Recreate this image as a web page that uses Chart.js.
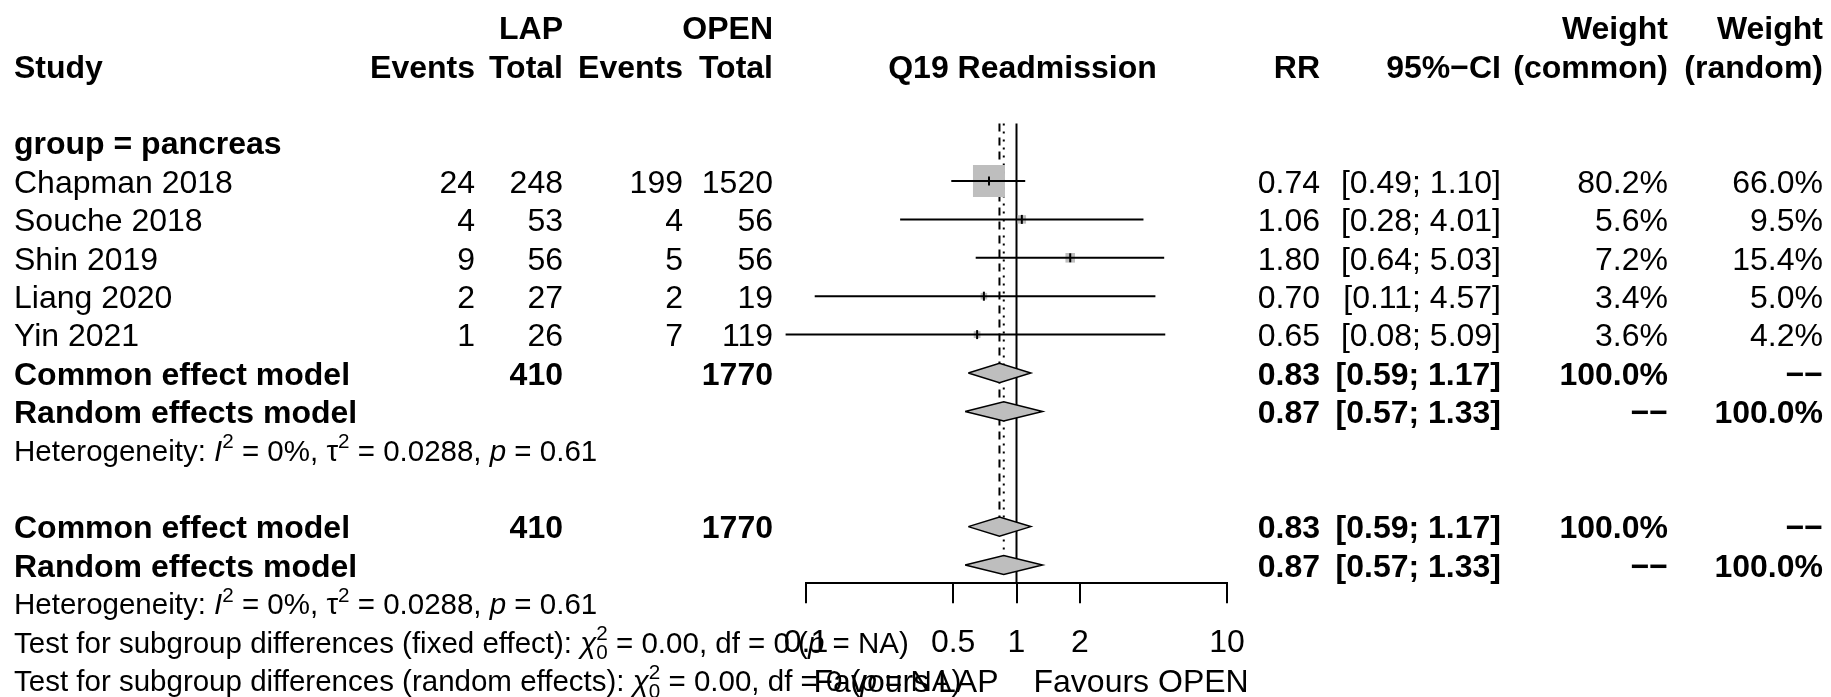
<!DOCTYPE html>
<html>
<head>
<meta charset="utf-8">
<title>Q19 Readmission forest plot</title>
<script src="https://cdn.jsdelivr.net/npm/chart.js@4/dist/chart.umd.min.js"></script>
<style>
  html, body { margin: 0; padding: 0; background: #fff; }
  #forest { display: block; }
</style>
</head>
<body>
<canvas id="forest" width="1831" height="697"></canvas>
<script>
// study level data
const STUDIES = ['Chapman 2018', 'Souche 2018', 'Shin 2019', 'Liang 2020', 'Yin 2021'];
const LAP_EVENTS = [24, 4, 9, 2, 1];
const LAP_TOTAL = [248, 53, 56, 27, 26];
const OPEN_EVENTS = [199, 4, 5, 2, 7];
const OPEN_TOTAL = [1520, 56, 56, 19, 119];
const RR = [0.74, 1.06, 1.80, 0.70, 0.65];
const CI_LOW = [0.49, 0.28, 0.64, 0.11, 0.08];
const CI_HIGH = [1.10, 4.01, 5.03, 4.57, 5.09];
const W_COMMON = [80.2, 5.6, 7.2, 3.4, 3.6];
const W_RANDOM = [66.0, 9.5, 15.4, 5.0, 4.2];

// pooled estimates (common, random)
const POOLED_NAMES = ['Common effect model', 'Random effects model'];
const POOLED_RR = [0.83, 0.87];
const POOLED_LOW = [0.59, 0.57];
const POOLED_HIGH = [1.17, 1.33];
const POOLED_LAP_TOTAL = 410;
const POOLED_OPEN_TOTAL = 1770;

const X_TICKS = [0.1, 0.5, 1, 2, 10];
const HET_TAU2 = '0.0288';
const HET_I2 = '0%';
const HET_P = '0.61';

// layout (rows are 38.4px apart, row 0 is the top header line)
const FONT = '"Liberation Sans", Arial, Helvetica, sans-serif';
const FS = 32;
const FS_SMALL = 29.5;
const ROW_PX = 38.4;
const ROW0_PX = 27.4;
const AXIS_PX = 583.3;
const Y_MIN = -ROW0_PX / ROW_PX;
const Y_MAX = (AXIS_PX - ROW0_PX) / ROW_PX;
const FIRST_STUDY_ROW = 4;
const SUB_ROWS = [9, 10];
const ALL_ROWS = [13, 14];

const COL = { study: 14, ev1: 475, tot1: 563, ev2: 683, tot2: 773, rr: 1320, ci: 1501, wc: 1668, wr: 1823 };
const GREY = '#bebebe';

const fmt2 = v => v.toFixed(2);
const fmtCI = (lo, hi) => `[${fmt2(lo)}; ${fmt2(hi)}]`;
const fmtPct = v => v.toFixed(1) + '%';

function boxRadius(w) {
    const side = 32 * Math.sqrt(w / W_COMMON[0]);
    return side / Math.SQRT2;
}

function diamond(est, lo, hi, row) {
    return [
        { x: lo, y: row }, { x: est, y: row - 0.25 }, { x: hi, y: row },
        { x: est, y: row + 0.25 }, { x: lo, y: row },
    ];
}

const studyRows = STUDIES.map((_, i) => FIRST_STUDY_ROW + i);

const datasets = [];
// point estimate ticks (on top)
datasets.push({
    type: 'scatter',
    data: RR.map((v, i) => ({ x: v, y: studyRows[i] })),
    pointStyle: 'line', rotation: 90, pointRadius: 4.5,
    pointBorderColor: '#000', pointBorderWidth: 2, pointBackgroundColor: '#000',
    order: 0, clip: false,
});
// confidence interval lines
STUDIES.forEach((_, i) => {
    datasets.push({
        type: 'line',
        data: [{ x: CI_LOW[i], y: studyRows[i] }, { x: CI_HIGH[i], y: studyRows[i] }],
        borderColor: '#000', borderWidth: 2, pointRadius: 0, fill: false,
        order: 1, clip: false,
    });
});
// weight boxes
datasets.push({
    type: 'scatter',
    data: RR.map((v, i) => ({ x: v, y: studyRows[i] })),
    pointStyle: 'rect',
    pointRadius: W_COMMON.map(boxRadius),
    pointBackgroundColor: GREY, pointBorderWidth: 0,
    order: 2, clip: false,
});
// diamonds for subgroup and overall
[SUB_ROWS, ALL_ROWS].forEach(rows => {
    rows.forEach((row, k) => {
        datasets.push({
            type: 'line',
            data: diamond(POOLED_RR[k], POOLED_LOW[k], POOLED_HIGH[k], row),
            borderColor: '#000', borderWidth: 1.5, backgroundColor: GREY,
            fill: 'shape', pointRadius: 0, tension: 0, borderJoinStyle: 'miter',
            order: 3, clip: false,
        });
    });
});
// reference lines
datasets.push({
    type: 'line',
    data: [{ x: POOLED_RR[0], y: 2.5 }, { x: POOLED_RR[0], y: ALL_ROWS[0] }],
    borderColor: '#000', borderWidth: 2, borderDash: [8, 6], pointRadius: 0, fill: false, order: 4,
});
datasets.push({
    type: 'line',
    data: [{ x: POOLED_RR[1], y: 2.5 }, { x: POOLED_RR[1], y: ALL_ROWS[1] }],
    borderColor: '#000', borderWidth: 2, borderDash: [2, 6], pointRadius: 0, fill: false, order: 4,
});
datasets.push({
    type: 'line',
    data: [{ x: 1, y: 2.5 }, { x: 1, y: Y_MAX }],
    borderColor: '#000', borderWidth: 2, pointRadius: 0, fill: false, order: 4,
});

function drawRuns(ctx, runs, x, y, size) {
    let cx = x;
    for (const r of runs) {
        if (r.sup !== undefined || r.sub !== undefined) {
            const s = size * 0.7;
            ctx.font = `${s}px ${FONT}`;
            let w = 0;
            if (r.sup !== undefined) {
                ctx.fillText(r.sup, cx, y - size * 0.42);
                w = Math.max(w, ctx.measureText(r.sup).width);
            }
            if (r.sub !== undefined) {
                ctx.fillText(r.sub, cx, y + size * 0.22);
                w = Math.max(w, ctx.measureText(r.sub).width);
            }
            cx += w;
        } else {
            ctx.font = `${r.it ? 'italic ' : ''}${size}px ${FONT}`;
            ctx.fillText(r.t, cx, y);
            cx += ctx.measureText(r.t).width;
        }
    }
}

const hetRuns = [
    { t: 'Heterogeneity: ' }, { t: 'I', it: true }, { sup: '2' }, { t: ` = ${HET_I2}, ` },
    { t: '\u03c4' }, { sup: '2' }, { t: ` = ${HET_TAU2}, ` }, { t: 'p', it: true }, { t: ` = ${HET_P}` },
];
const testRuns = kind => [
    { t: `Test for subgroup differences (${kind}): ` }, { t: '\u03c7', it: true }, { sup: '2', sub: '0' },
    { t: ' = 0.00, df = 0 (' }, { t: 'p', it: true }, { t: ' = NA)' },
];

const textPlugin = {
    id: 'forestText',
    afterDraw(chart) {
        const ctx = chart.ctx;
        const ys = chart.scales.y;
        const xs = chart.scales.x;
        const base = (row, size) => ys.getPixelForValue(row) + size * 0.37;
        const put = (str, x, row, align, bold, size = FS) => {
            ctx.font = `${bold ? 'bold ' : ''}${size}px ${FONT}`;
            ctx.textAlign = align;
            ctx.fillText(str, x, base(row, size));
        };
        ctx.save();
        ctx.fillStyle = '#000';
        ctx.textBaseline = 'alphabetic';

        // headers
        put('LAP', COL.tot1, 0, 'right', true);
        put('OPEN', COL.tot2, 0, 'right', true);
        put('Weight', COL.wc, 0, 'right', true);
        put('Weight', COL.wr, 0, 'right', true);
        put('Study', COL.study, 1, 'left', true);
        put('Events', COL.ev1, 1, 'right', true);
        put('Total', COL.tot1, 1, 'right', true);
        put('Events', COL.ev2, 1, 'right', true);
        put('Total', COL.tot2, 1, 'right', true);
        put('Q19 Readmission', (chart.chartArea.left + chart.chartArea.right) / 2 + 6, 1, 'center', true);
        put('RR', COL.rr, 1, 'right', true);
        put('95%\u2212CI', COL.ci, 1, 'right', true);
        put('(common)', COL.wc, 1, 'right', true);
        put('(random)', COL.wr, 1, 'right', true);

        put('group = pancreas', COL.study, 3, 'left', true);

        STUDIES.forEach((name, i) => {
            const r = studyRows[i];
            put(name, COL.study, r, 'left', false);
            put(String(LAP_EVENTS[i]), COL.ev1, r, 'right', false);
            put(String(LAP_TOTAL[i]), COL.tot1, r, 'right', false);
            put(String(OPEN_EVENTS[i]), COL.ev2, r, 'right', false);
            put(String(OPEN_TOTAL[i]), COL.tot2, r, 'right', false);
            put(fmt2(RR[i]), COL.rr, r, 'right', false);
            put(fmtCI(CI_LOW[i], CI_HIGH[i]), COL.ci, r, 'right', false);
            put(fmtPct(W_COMMON[i]), COL.wc, r, 'right', false);
            put(fmtPct(W_RANDOM[i]), COL.wr, r, 'right', false);
        });

        [SUB_ROWS, ALL_ROWS].forEach(rows => {
            rows.forEach((r, k) => {
                put(POOLED_NAMES[k], COL.study, r, 'left', true);
                if (k === 0) {
                    put(String(POOLED_LAP_TOTAL), COL.tot1, r, 'right', true);
                    put(String(POOLED_OPEN_TOTAL), COL.tot2, r, 'right', true);
                }
                put(fmt2(POOLED_RR[k]), COL.rr, r, 'right', true);
                put(fmtCI(POOLED_LOW[k], POOLED_HIGH[k]), COL.ci, r, 'right', true);
                put(k === 0 ? '100.0%' : '\u2212\u2212', COL.wc, r, 'right', true);
                put(k === 0 ? '\u2212\u2212' : '100.0%', COL.wr, r, 'right', true);
            });
        });

        ctx.textAlign = 'left';
        drawRuns(ctx, hetRuns, COL.study, base(11, FS_SMALL), FS_SMALL);
        drawRuns(ctx, hetRuns, COL.study, base(15, FS_SMALL), FS_SMALL);
        drawRuns(ctx, testRuns('fixed effect'), COL.study, base(16, FS_SMALL), FS_SMALL);
        drawRuns(ctx, testRuns('random effects'), COL.study, base(17, FS_SMALL), FS_SMALL);

        // favours labels either side of the null line
        const x1 = xs.getPixelForValue(1);
        put('Favours LAP', x1 - 18, 17, 'right', false);
        put('Favours OPEN', x1 + 17, 17, 'left', false);
        ctx.restore();
    },
};

Chart.defaults.font.family = FONT;
Chart.defaults.color = '#000';

new Chart(document.getElementById('forest'), {
    type: 'scatter',
    data: { datasets },
    options: {
        responsive: false,
        animation: false,
        events: [],
        layout: { autoPadding: false, padding: { left: 806, right: 604, top: 0, bottom: 0 } },
        plugins: { legend: { display: false }, tooltip: { enabled: false } },
        scales: {
            x: {
                type: 'logarithmic',
                position: 'bottom',
                min: X_TICKS[0],
                max: X_TICKS[X_TICKS.length - 1],
                afterBuildTicks: axis => { axis.ticks = X_TICKS.map(v => ({ value: v })); },
                afterFit: axis => { axis.height = 697 - AXIS_PX; },
                ticks: {
                    autoSkip: false, maxRotation: 0, padding: 21,
                    font: { size: FS }, color: '#000',
                    callback: (v, i) => String(X_TICKS[i]),
                },
                grid: { drawOnChartArea: false, drawTicks: true, tickLength: 20, color: '#000', lineWidth: 2 },
                border: { color: '#000', width: 2 },
            },
            y: {
                type: 'linear', reverse: true, display: false,
                min: Y_MIN, max: Y_MAX,
            },
        },
    },
    plugins: [textPlugin],
});
</script>
</body>
</html>
